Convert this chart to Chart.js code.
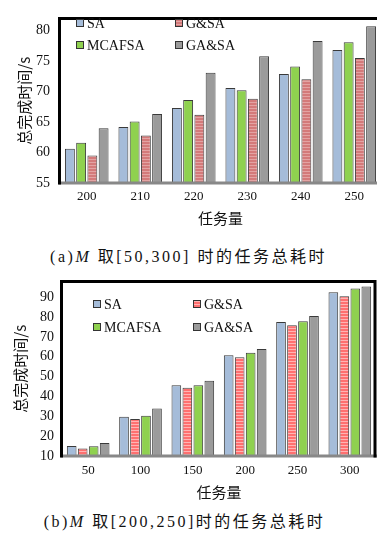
<!DOCTYPE html>
<html>
<head>
<meta charset="utf-8">
<script src="https://cdn.jsdelivr.net/npm/chart.js@4.4.1/dist/chart.umd.min.js"></script>
<style>
  html, body { margin: 0; padding: 0; background: #fff; overflow: hidden; width: 377px; height: 533px; }
  .box { position: absolute; left: 0; }
  .cap { position: absolute; left: 0; width: 377px; text-align: center; font-family: "Liberation Serif", "Times New Roman", "DejaVu Serif", "Noto Sans CJK SC", serif; font-size: 16px; color: #111; letter-spacing: 2.5px; white-space: nowrap; }
  .cap .z { font-family: "Noto Sans CJK SC", sans-serif; }
</style>
</head>
<body>
<div class="box" style="top:0; width:382px; height:235px;"><canvas id="chartA"></canvas></div>
<div class="cap" style="top:243px;">(a)<i>M</i> <span class="z">取</span>[50,300] <span class="z">时的任务总耗时</span></div>
<div class="box" style="top:265px; width:377px; height:240px;"><canvas id="chartB"></canvas></div>
<div class="cap" style="top:508px; left:-4px;">(b)<i>M</i> <span class="z">取</span>[200,250]<span class="z">时的任务总耗时</span></div>
<script>
// chart (a)
let catsA = ['200', '210', '220', '230', '240', '250'];
let saA     = [60.6, 64.2, 67.3, 70.6, 72.9, 76.8];
let mcafsaA = [61.6, 65.1, 68.6, 70.2, 74.1, 78.1];
let gsaA    = [59.5, 62.8, 66.2, 68.8, 72.0, 75.5];
let gaA     = [64.0, 66.3, 73.1, 75.8, 78.3, 80.7];
let ticksA  = [55, 60, 65, 70, 75, 80];

// chart (b)
let catsB = ['50', '100', '150', '200', '250', '300'];
let saB     = [15.0, 29.8, 45.7, 60.8, 77.5, 92.5];
let gsaB    = [13.8, 28.7, 44.4, 59.8, 75.9, 90.5];
let mcafsaB = [14.9, 30.3, 45.7, 62.0, 77.9, 94.4];
let gaB     = [16.5, 33.9, 47.9, 63.9, 80.5, 95.4];
let ticksB  = [10, 20, 30, 40, 50, 60, 70, 80, 90];

const FONT = '"Liberation Serif", "Times New Roman", "DejaVu Serif", serif';
const CJK = '"Noto Sans CJK SC", sans-serif';

function stripes(base, light) {
    let c = document.createElement('canvas');
    c.width = 4; c.height = 3;
    let g = c.getContext('2d');
    g.fillStyle = base; g.fillRect(0, 0, 4, 3);
    g.fillStyle = light; g.fillRect(0, 0, 4, 1);
    return g.createPattern(c, 'repeat');
}

// legend + frame drawn inside the plot area
const framePlugin = {
    id: 'frame',
    afterDatasetsDraw(chart, args, opts) {
        let ctx = chart.ctx, a = chart.chartArea;
        ctx.save();
        ctx.lineCap = 'square';
        ctx.lineWidth = 3;
        ctx.strokeStyle = '#888';
        ctx.beginPath(); ctx.moveTo(a.left, a.bottom); ctx.lineTo(a.right, a.bottom); ctx.stroke();
        ctx.strokeStyle = '#000';
        ctx.beginPath();
        ctx.moveTo(a.left - 0.5, a.bottom);
        ctx.lineTo(a.left - 0.5, a.top);
        ctx.lineTo(a.right - 1, a.top);
        if (opts.right) ctx.lineTo(a.right - 1, a.bottom);
        ctx.stroke();

        // legend: two columns, fixed order
        ctx.font = '14px ' + FONT;
        ctx.textBaseline = 'middle';
        ctx.textAlign = 'left';
        opts.items.forEach(function (it) {
            let ds = chart.data.datasets.find(d => d.label === it.label);
            let x = opts.x[it.col], y = opts.y[it.row];
            ctx.fillStyle = ds.backgroundColor;
            ctx.fillRect(x, y - 3.5, 7, 7);
            ctx.lineWidth = 1;
            ctx.strokeStyle = '#333';
            ctx.strokeRect(x + 0.5, y - 3.5, 7, 7);
            ctx.fillStyle = '#111';
            ctx.fillText(it.label, x + opts.gap, y + 1);
        });
        ctx.restore();
    }
};

const legendItems = [
    {label: 'SA', col: 0, row: 0}, {label: 'G&SA', col: 1, row: 0},
    {label: 'MCAFSA', col: 0, row: 1}, {label: 'GA&SA', col: 1, row: 1}
];

function bars(label, data, color) {
    return {
        label: label, data: data, backgroundColor: color,
        borderColor: '#3a3a3a', borderWidth: 1, borderSkipped: 'start',
        categoryPercentage: 0.84, barPercentage: 0.88
    };
}

function makeChart(id, cats, datasets, y, lay) {
    let ctx = document.getElementById(id).getContext('2d');
    return new Chart(ctx, {
        type: 'bar',
        data: { labels: cats, datasets: datasets },
        plugins: [framePlugin],
        options: {
            responsive: true,
            maintainAspectRatio: false,
            animation: false,
            layout: { padding: { top: lay.top, right: lay.right, left: 0, bottom: 0 } },
            plugins: {
                legend: { display: false },
                tooltip: { enabled: false },
                frame: lay.frame
            },
            scales: {
                x: {
                    grid: { display: false, drawTicks: false },
                    border: { display: false },
                    ticks: { color: '#111', font: { family: FONT, size: 13 }, padding: lay.xPad, maxRotation: 0 },
                    title: { display: true, text: '任务量', color: '#111', font: { family: CJK, size: 15 }, padding: { top: 0, bottom: lay.xTitlePad } },
                    afterFit: function (s) { s.height = lay.xHeight; }
                },
                y: {
                    min: y.min, max: y.max,
                    grid: { display: false, drawTicks: false },
                    border: { display: false },
                    ticks: { color: '#111', font: { family: FONT, size: 14 }, padding: lay.yPad },
                    afterBuildTicks: function (s) { s.ticks = y.ticks.map(v => ({ value: v })); },
                    title: { display: true, text: '总完成时间/s', color: '#111', font: { family: CJK, size: 15 }, padding: { top: lay.yTitlePad, bottom: 0 } },
                    afterFit: function (s) { s.width = lay.left; }
                }
            }
        }
    });
}

makeChart('chartA', catsA, [
    bars('SA', saA, '#a5bcd9'),
    bars('MCAFSA', mcafsaA, '#8fd14f'),
    bars('G&SA', gsaA, stripes('#d47a7a', '#e3a3a3')),
    bars('GA&SA', gaA, '#9b9b9b')
], {min: 55, max: 82, ticks: ticksA}, {
    top: 10, right: 1, left: 60, xHeight: 52, xPad: 6, xTitlePad: 8, yPad: 10, yTitlePad: 15,
    frame: { right: false, items: legendItems, x: [76, 175], y: [23, 45], gap: 11 }
});

makeChart('chartB', catsB, [
    bars('SA', saB, '#a5bcd9'),
    bars('G&SA', gsaB, stripes('#ff7070', '#ffb4b4')),
    bars('MCAFSA', mcafsaB, '#8fd14f'),
    bars('GA&SA', gaB, '#9b9b9b')
], {min: 10, max: 98, ticks: ticksB}, {
    top: 12, right: 1, left: 62, xHeight: 49, xPad: 7, xTitlePad: 4, yPad: 8, yTitlePad: 11,
    frame: { right: true, items: legendItems, x: [93, 193], y: [39, 62], gap: 11 }
});
</script>
</body>
</html>
